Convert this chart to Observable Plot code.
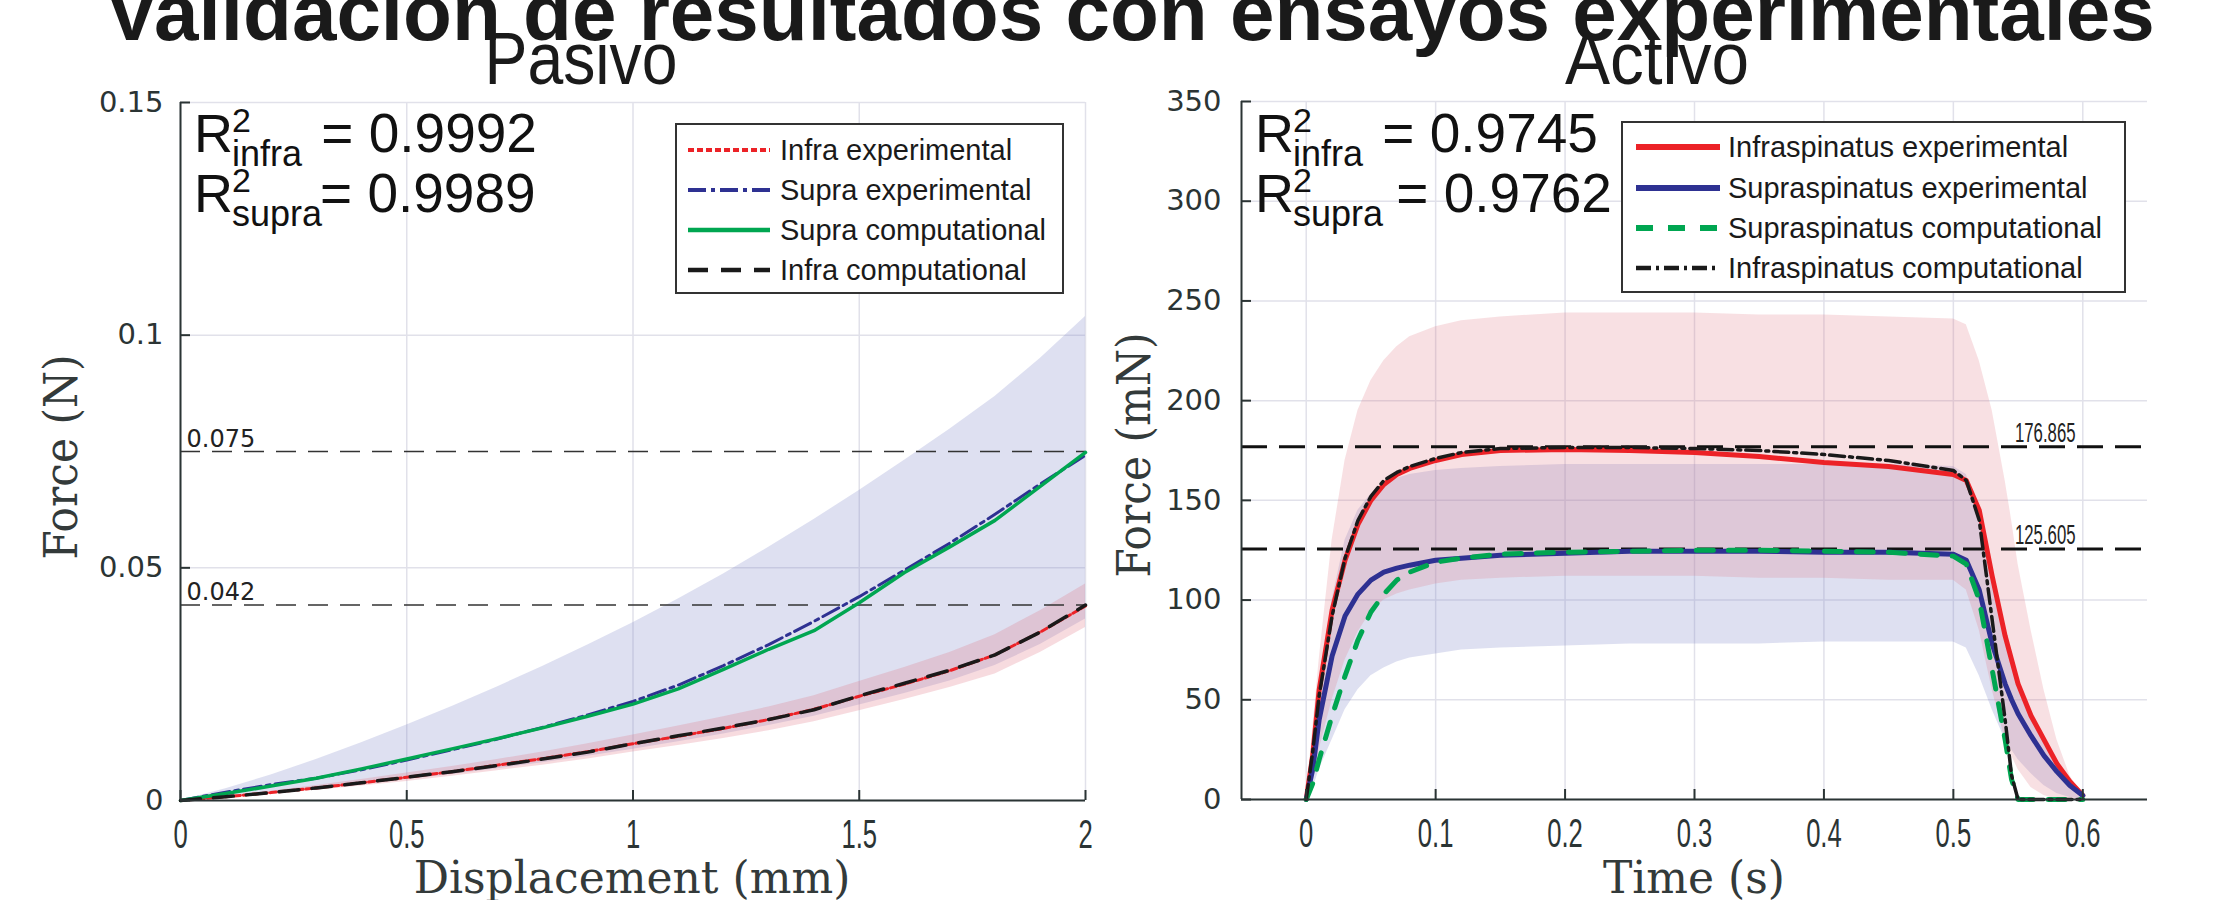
<!DOCTYPE html>
<html><head><meta charset="utf-8">
<script src="https://cdn.jsdelivr.net/npm/d3@7"></script>
<script src="https://cdn.jsdelivr.net/npm/@observablehq/plot@0.6"></script>
<style>
html,body{margin:0;padding:0;background:#fff;}
#fig{position:relative;width:2221px;height:900px;overflow:hidden;background:#fff;}
#fig > svg{position:absolute;top:0;}
</style></head><body><div id="fig"></div>
<script>
// ---------------- Passive (Pasivo) data ----------------
const dispX        = [0, 0.1, 0.2, 0.3, 0.4, 0.5, 0.6, 0.7, 0.8, 0.9, 1.0, 1.1, 1.2, 1.3, 1.4, 1.5, 1.6, 1.7, 1.8, 1.9, 2.0];
const infraExpP    = [0, 0.0008, 0.0017, 0.0027, 0.0038, 0.0050, 0.0062, 0.0076, 0.0090, 0.0105, 0.0122, 0.0138, 0.0155, 0.0174, 0.0196, 0.0224, 0.0250, 0.0279, 0.0313, 0.0362, 0.0418];
const supraExpP    = [0, 0.0018, 0.0034, 0.0048, 0.0066, 0.0087, 0.0109, 0.0132, 0.0157, 0.0184, 0.0213, 0.0248, 0.0290, 0.0335, 0.0385, 0.0438, 0.0495, 0.0553, 0.0615, 0.0680, 0.0742];
const supraCompP   = [0, 0.0015, 0.0031, 0.0048, 0.0068, 0.0089, 0.0111, 0.0133, 0.0156, 0.0181, 0.0207, 0.0240, 0.0282, 0.0325, 0.0365, 0.0425, 0.0490, 0.0545, 0.0602, 0.0675, 0.0748];
const infraCompP   = [0, 0.0008, 0.0017, 0.0027, 0.0038, 0.0050, 0.0062, 0.0075, 0.0089, 0.0104, 0.0122, 0.0139, 0.0156, 0.0174, 0.0195, 0.0225, 0.0252, 0.0280, 0.0313, 0.0362, 0.0420];
const supraBandLoP = [0, 0.0007, 0.0015, 0.0024, 0.0034, 0.0045, 0.0056, 0.0068, 0.0081, 0.0095, 0.0110, 0.0126, 0.0143, 0.0161, 0.0181, 0.0205, 0.0230, 0.0257, 0.0290, 0.0335, 0.0390];
const supraBandHiP = [0, 0.0025, 0.0055, 0.0088, 0.0124, 0.0162, 0.0202, 0.0244, 0.0288, 0.0334, 0.0382, 0.0433, 0.0487, 0.0544, 0.0604, 0.0666, 0.0731, 0.0798, 0.0868, 0.0950, 0.1040];
const infraBandLoP = [0, 0.0006, 0.0014, 0.0022, 0.0031, 0.0041, 0.0052, 0.0064, 0.0076, 0.0089, 0.0104, 0.0118, 0.0133, 0.0150, 0.0169, 0.0193, 0.0217, 0.0243, 0.0272, 0.0318, 0.0372];
const infraBandHiP = [0, 0.0010, 0.0020, 0.0032, 0.0045, 0.0059, 0.0073, 0.0088, 0.0104, 0.0122, 0.0141, 0.0160, 0.0180, 0.0201, 0.0225, 0.0256, 0.0286, 0.0318, 0.0356, 0.0408, 0.0465];
const pasXTicks = [0, 0.5, 1, 1.5, 2];
const pasYTicks = [0, 0.05, 0.1, 0.15];
const pasHLines = [0.075, 0.042];

// ---------------- Active (Activo) data ----------------
const timeS        = [0, 0.005, 0.01, 0.02, 0.03, 0.04, 0.05, 0.06, 0.07, 0.08, 0.1, 0.12, 0.15, 0.2, 0.25, 0.3, 0.35, 0.4, 0.45, 0.5, 0.51, 0.52, 0.53, 0.54, 0.545, 0.55, 0.56, 0.57, 0.58, 0.59, 0.6];
const infraExpA    = [0, 22, 55, 95, 120, 138, 150, 158, 163, 166, 170, 173, 175, 175.5, 175, 174, 172, 169, 167, 163, 160, 145, 112, 82, 70, 58, 42, 30, 18, 9, 2];
const supraExpA    = [0, 15, 40, 72, 92, 103, 110, 114, 116, 117.5, 120, 121, 122.5, 123.5, 124.5, 124.5, 124.5, 124, 124, 123, 120, 105, 78, 58, 50, 43, 32, 22, 14, 7, 2];
const supraCompA   = [0, 8, 20, 42, 62, 80, 94, 103, 110, 114, 119, 121, 123, 124, 124.5, 125, 125, 124.5, 124, 122, 118, 100, 65, 30, 10, 0, 0, 0, 0, 0, 0];
const infraCompA   = [0, 24, 52, 92, 121, 140, 152, 160, 164, 167, 171, 174, 176, 176.5, 176.5, 176, 175, 173, 170, 165, 160, 140, 90, 40, 12, 0, 0, 0, 0, 0, 0];
const infraBandHiA = [0, 35, 70, 130, 170, 195, 210, 220, 227, 232, 237, 240, 242, 244, 244, 244, 243, 243, 242, 241, 238, 220, 195, 160, 140, 118, 85, 55, 30, 12, 2];
const infraBandLoA = [0, 8, 25, 50, 70, 84, 94, 100, 103, 105, 108, 110, 111, 112, 112, 112, 111, 111, 110, 110, 105, 85, 55, 30, 22, 15, 6, 2, 0, 0, 0];
const supraBandHiA = [0, 25, 55, 100, 130, 145, 153, 158, 161, 163, 165, 166, 167, 168, 168, 168, 168, 168, 168, 167, 163, 145, 110, 80, 68, 58, 42, 28, 16, 7, 1];
const supraBandLoA = [0, 5, 15, 30, 45, 55, 62, 66, 69, 71, 73, 75, 76, 77, 78, 78, 78, 79, 79, 79, 76, 62, 45, 30, 25, 20, 13, 7, 3, 1, 0];
const actXTicks = [0, 0.1, 0.2, 0.3, 0.4, 0.5, 0.6];
const actYTicks = [0, 50, 100, 150, 200, 250, 300, 350];
const actHLines = [176.865, 125.605];

// texts
const mainTitle = "Validación de resultados con ensayos experimentales";
const pasTitle = "Pasivo", actTitle = "Activo";
const pasXLabel = "Displacement (mm)", pasYLabel = "Force (N)";
const actXLabel = "Time (s)", actYLabel = "Force (mN)";
const pasR2 = [["infra", " = 0.9992"], ["supra", "= 0.9989"]];
const actR2 = [["infra", " = 0.9745"], ["supra", " = 0.9762"]];
const pasLegend = ["Infra experimental", "Supra experimental", "Supra computational", "Infra computational"];
const actLegend = ["Infraspinatus experimental", "Supraspinatus experimental", "Supraspinatus computational", "Infraspinatus computational"];

// ---------------- styles ----------------
const RED = "#ec2227", BLUE = "#2e3192", GREEN = "#00a651", BLACK = "#1a1a1a";
const AX = "#2b3434", GRID = "#e1e1ea";
const pasStyles = [
  {stroke: RED, strokeWidth: 3, dash: "6,3"},
  {stroke: BLUE, strokeWidth: 3, dash: "18,5,4,5"},
  {stroke: GREEN, strokeWidth: 3.5, dash: null},
  {stroke: BLACK, strokeWidth: 3.5, dash: "20,13"}
];
const actStyles = [
  {stroke: RED, strokeWidth: 5, dash: null},
  {stroke: BLUE, strokeWidth: 5, dash: null},
  {stroke: GREEN, strokeWidth: 5, dash: "17,15"},
  {stroke: BLACK, strokeWidth: 3.5, dash: "15,5,3,5"}
];

const pasData = dispX.map((x, i) => ({x, ie: infraExpP[i], se: supraExpP[i], sc: supraCompP[i], ic: infraCompP[i],
  sLo: supraBandLoP[i], sHi: supraBandHiP[i], iLo: infraBandLoP[i], iHi: infraBandHiP[i]}));
const actData = timeS.map((x, i) => ({x, ie: infraExpA[i], se: supraExpA[i], sc: supraCompA[i], ic: infraCompA[i],
  sLo: supraBandLoA[i], sHi: supraBandHiA[i], iLo: infraBandLoA[i], iHi: infraBandHiA[i]}));

function lineMark(data, key, st) {
  return Plot.line(data, {x: "x", y: key, stroke: st.stroke, strokeWidth: st.strokeWidth,
    strokeDasharray: st.dash || undefined, strokeLinejoin: "round"});
}

function condense(sel, k) {
  sel.attr("transform", function () {
    return (this.getAttribute("transform") || "") + ` scale(${k},1)`;
  });
}

function makePlot(cfg) {
  const fw = cfg.width - cfg.ml - cfg.mr, fh = cfg.height - cfg.mt - cfg.mb;
  const keys = ["ie", "se", "sc", "ic"];
  const p = Plot.plot({
    width: cfg.width, height: cfg.height,
    marginLeft: cfg.ml, marginRight: cfg.mr, marginTop: cfg.mt, marginBottom: cfg.mb,
    x: {domain: cfg.xDomain}, y: {domain: cfg.yDomain},
    style: {background: "transparent", color: AX, overflow: "visible"},
    marks: [
      Plot.gridX(cfg.xTicks, {stroke: GRID, strokeOpacity: 1, strokeWidth: 1.5}),
      Plot.gridY(cfg.yTicks, {stroke: GRID, strokeOpacity: 1, strokeWidth: 1.5}),
      Plot.areaY(cfg.data, {x: "x", y1: "sLo", y2: "sHi", fill: "#7b84c8", fillOpacity: 0.25}),
      Plot.areaY(cfg.data, {x: "x", y1: "iLo", y2: "iHi", fill: "#e07080", fillOpacity: cfg.pinkOpacity}),
      Plot.ruleY(cfg.hLines, {stroke: cfg.hStroke, strokeWidth: cfg.hWidth, strokeDasharray: cfg.hDash}),
      Plot.text(cfg.hLines, {y: d => d, text: d => String(d), frameAnchor: cfg.hAnchor, textAnchor: cfg.hAnchor === "left" ? "start" : "end",
        dx: cfg.hDx, dy: -5, lineAnchor: "bottom", fontSize: cfg.hFont, fontFamily: cfg.hFamily, fill: "#222"}),
      ...keys.map((k, i) => lineMark(cfg.data, k, cfg.styles[i])),
      Plot.ruleX([cfg.xDomain[0]], {stroke: AX, strokeWidth: 2}),
      Plot.ruleY([cfg.yDomain[0]], {stroke: AX, strokeWidth: 2}),
      Plot.tickY(cfg.yTicks, {y: d => d, insetRight: fw - 10, stroke: AX, strokeWidth: 2}),
      Plot.tickX(cfg.xTicks, {x: d => d, insetTop: fh - 10, stroke: AX, strokeWidth: 2}),
      Plot.axisX(cfg.xTicks, {tickSize: 0, tickPadding: 19, tickFormat: d => String(d), fontSize: 40,
        fontFamily: "Liberation Sans, Arial, sans-serif", label: null}),
      Plot.axisY(cfg.yTicks, {tickSize: 0, tickPadding: cfg.yPad, tickFormat: d => String(d), fontSize: 29,
        fontFamily: "DejaVu Sans, sans-serif", label: null})
    ]
  });
  p.style.left = cfg.left + "px";
  condense(d3.select(p).selectAll('g[aria-label="x-axis tick label"] text'), 0.64);
  if (cfg.hCondense) condense(d3.select(p).selectAll('g[aria-label="text"] text'), cfg.hCondense);
  return p;
}

const fig = document.getElementById("fig");
fig.appendChild(makePlot({
  left: 0, width: 1110, height: 900, ml: 180, mr: 25, mt: 102, mb: 100,
  xDomain: [0, 2], yDomain: [0, 0.15], xTicks: pasXTicks, yTicks: pasYTicks, data: pasData, styles: pasStyles,
  hLines: pasHLines, hStroke: "#333", hWidth: 1.4, hDash: "20,12", hAnchor: "left", hDx: 6, hFont: 24,
  hFamily: "DejaVu Sans, sans-serif", yPad: 17, pinkOpacity: 0.25, hCondense: null
}));
fig.appendChild(makePlot({
  left: 1110, width: 1111, height: 900, ml: 131, mr: 74, mt: 101, mb: 101,
  xDomain: [-0.05, 0.65], yDomain: [0, 350], xTicks: actXTicks, yTicks: actYTicks, data: actData, styles: actStyles,
  hLines: actHLines, hStroke: "#111", hWidth: 3, hDash: "26,12", hAnchor: "right", hDx: -72, hFont: 27,
  hFamily: "Liberation Sans, Arial, sans-serif", yPad: 20, pinkOpacity: 0.22, hCondense: 0.62
}));

// ---------------- overlay: titles, labels, R², legends ----------------
const ov = d3.select(fig).append("svg").attr("width", 2221).attr("height", 900).style("left", "0px").style("pointer-events", "none");
ov.append("text").attr("x", 1130).attr("y", 40).attr("text-anchor", "middle")
  .attr("font-family", "Liberation Sans, Arial, sans-serif").attr("font-weight", "bold").attr("font-size", 80).attr("fill", "#1a1a1a").text(mainTitle);
[[pasTitle, 581, 193], [actTitle, 1657, 184]].forEach(([t, cx, w]) => {
  ov.append("text").attr("x", cx - w / 2).attr("y", 84).attr("textLength", w).attr("lengthAdjust", "spacingAndGlyphs")
    .attr("font-family", "Liberation Sans, Arial, sans-serif").attr("font-size", 74).attr("fill", "#1a1a1a").text(t);
});
const serif = "DejaVu Serif, serif";
[[pasXLabel, 632], [actXLabel, 1694]].forEach(([t, cx]) => {
  ov.append("text").attr("x", cx).attr("y", 893).attr("text-anchor", "middle").attr("font-family", serif)
    .attr("font-size", 44).attr("fill", "#333a3a").text(t);
});
[[pasYLabel, 77, 457, 205], [actYLabel, 1150, 455, 245]].forEach(([t, x, y, len]) => {
  ov.append("text").attr("transform", `translate(${x},${y}) rotate(-90)`).attr("x", -len / 2)
    .attr("textLength", len).attr("lengthAdjust", "spacingAndGlyphs")
    .attr("font-family", serif).attr("font-size", 47).attr("fill", "#333a3a").text(t);
});
function r2(x0, rows) {
  rows.forEach(([sub, val], i) => {
    const by = 152 + i * 60;
    const g = ov.append("g").attr("font-family", "Liberation Sans, Arial, sans-serif").attr("fill", "#111");
    g.append("text").attr("x", x0).attr("y", by).attr("font-size", 54).text("R");
    g.append("text").attr("x", x0 + 38).attr("y", by - 20).attr("font-size", 34).text("2");
    g.append("text").attr("x", x0 + 38).attr("y", by + 14).attr("font-size", 36).text(sub);
    g.append("text").attr("x", x0 + 38 + (sub === "infra" ? 74 : 88)).attr("y", by).attr("font-size", 55)
      .attr("xml:space", "preserve").style("white-space", "pre").text(val);
  });
}
r2(194, pasR2);
r2(1255, actR2);
function legend(box, sx0, sx1, tx, rows, labels, styles) {
  ov.append("rect").attr("x", box[0]).attr("y", box[1]).attr("width", box[2] - box[0]).attr("height", box[3] - box[1])
    .attr("fill", "#fff").attr("stroke", "#333").attr("stroke-width", 2);
  labels.forEach((lab, i) => {
    const st = styles[i];
    ov.append("line").attr("x1", sx0).attr("x2", sx1).attr("y1", rows[i]).attr("y2", rows[i])
      .attr("stroke", st.stroke).attr("stroke-width", st.strokeWidth + 1).attr("stroke-dasharray", st.dash);
    ov.append("text").attr("x", tx).attr("y", rows[i] + 10).attr("font-family", "Liberation Sans, Arial, sans-serif")
      .attr("font-size", 29).attr("fill", "#1a1a1a").text(lab);
  });
}
legend([676, 124, 1063, 293], 688, 770, 780, [150, 190, 230, 270], pasLegend, pasStyles);
legend([1622, 122, 2125, 292], 1636, 1720, 1728, [147, 188, 228, 268], actLegend, actStyles);
</script></body></html>
